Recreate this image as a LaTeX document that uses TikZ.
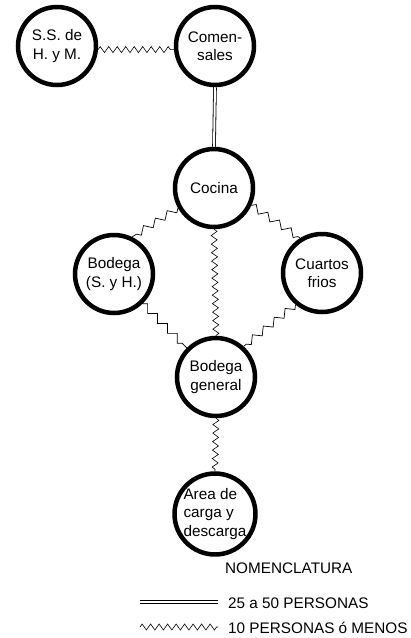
\documentclass[tikz,border=0pt]{standalone}
\usepackage{fontspec}
\setmainfont{Liberation Sans}
\usetikzlibrary{decorations.pathmorphing}
\begin{document}
\begin{tikzpicture}[x=1pt,y=-1pt,
  room/.style={circle,draw,line width=4.5pt,minimum size=78pt,inner sep=0pt,align=center,font=\fontsize{15.3}{18.5}\selectfont},
  few/.style={decorate,decoration={zigzag,segment length=8.5pt,amplitude=3pt},line width=0.6pt},
  stair/.style={decorate,decoration={zigzag,segment length=14pt,amplitude=3.5pt},line width=0.7pt},
  many/.style={double,double distance=2pt,line width=0.8pt},
  lbl/.style={anchor=west,inner sep=0pt,font=\fontsize{15.3}{18.5}\selectfont}]
\useasboundingbox (0,0) rectangle (411,638);
\node[room] (ss) at (57,46) {S.S. de\\H. y M.};
\node[room] (com) at (215,46) {Comen-\\sales};
\node[room] (coc) at (214,188) {Cocina};
\node[room] (bsh) at (114,274) {Bodega\\(S. y H.)};
\node[room] (cua) at (322,273) {Cuartos\\frios};
\node[room] (bg) at (216,377) {Bodega\\general};
\node[room,align=left] (area) at (215,514) {Area de\\carga y\\descarga};
\draw[few] (ss.-5) -- (com.185);
\draw[many] (com.south) -- (coc.north);
\draw[stair] (coc.209) -- (bsh.64);
\draw[stair] (coc.335) -- (cua.122);
\draw[few] (coc.south) -- (bg.north);
\draw[stair] (bsh.314) -- (bg.135);
\draw[stair] (cua.230) -- (bg.48);
\draw[few] (bg.south) -- (area.north);
\node[lbl] (nom) at (225,568) {NOMENCLATURA};
\coordinate (l1a) at (140,602);
\coordinate (l1b) at (218,602);
\coordinate (l2a) at (140,627);
\coordinate (l2b) at (218,627);
\draw[many] (l1a) -- (l1b);
\draw[few] (l2a) -- (l2b);
\node[lbl] (t1) at (228,603) {25 a 50 PERSONAS};
\node[lbl] (t2) at (228,628) {10 PERSONAS ó MENOS};
\end{tikzpicture}
\end{document}
